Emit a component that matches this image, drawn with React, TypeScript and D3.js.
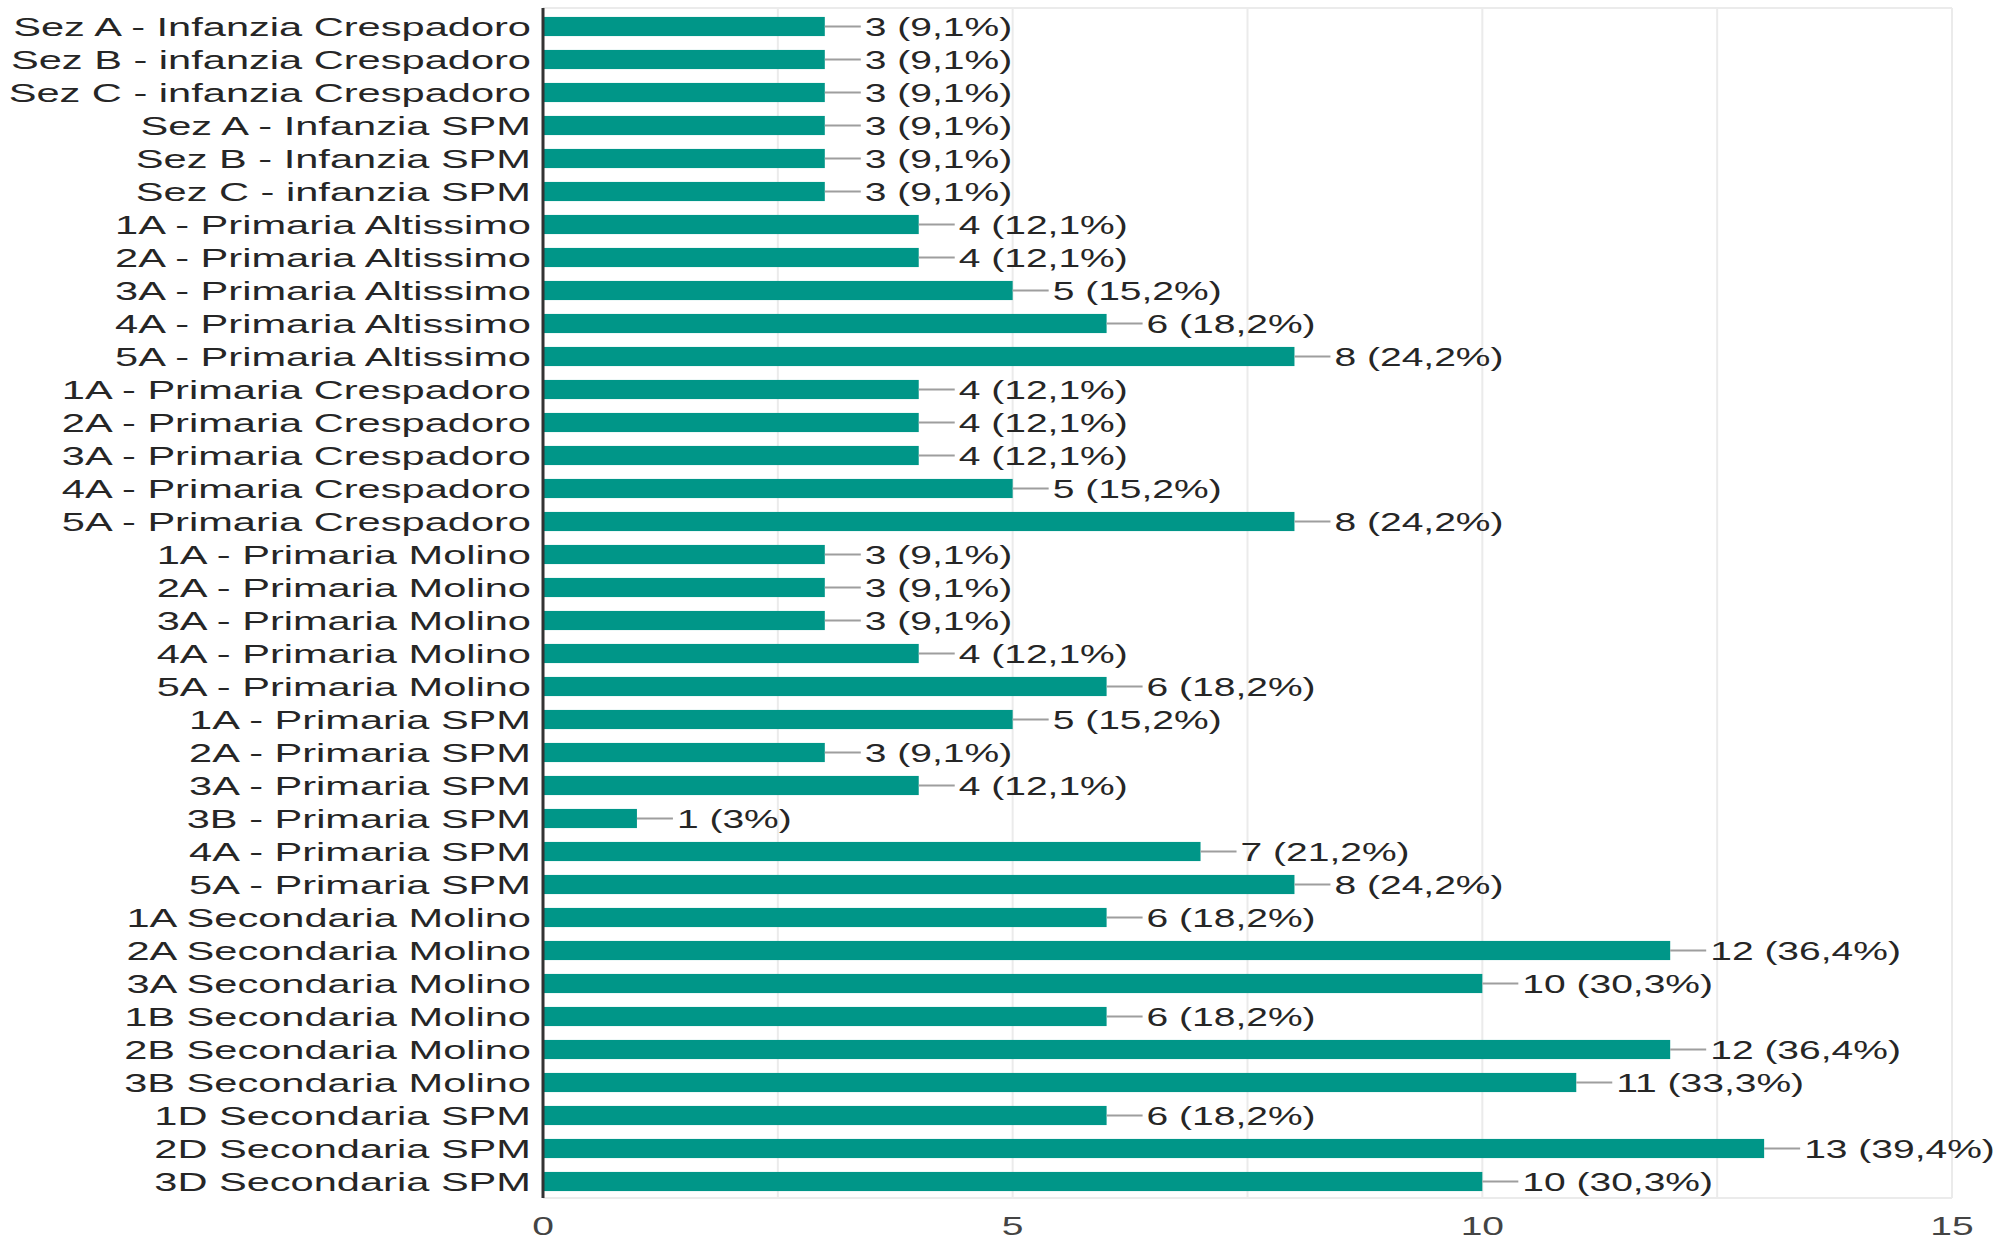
import React from 'react';
import * as d3 from 'd3';

const categories = [
  'Sez A - Infanzia Crespadoro',
  'Sez B - infanzia Crespadoro',
  'Sez C - infanzia Crespadoro',
  'Sez A - Infanzia SPM',
  'Sez B - Infanzia SPM',
  'Sez C - infanzia SPM',
  '1A - Primaria Altissimo',
  '2A - Primaria Altissimo',
  '3A - Primaria Altissimo',
  '4A - Primaria Altissimo',
  '5A - Primaria Altissimo',
  '1A - Primaria Crespadoro',
  '2A - Primaria Crespadoro',
  '3A - Primaria Crespadoro',
  '4A - Primaria Crespadoro',
  '5A - Primaria Crespadoro',
  '1A - Primaria Molino',
  '2A - Primaria Molino',
  '3A - Primaria Molino',
  '4A - Primaria Molino',
  '5A - Primaria Molino',
  '1A - Primaria SPM',
  '2A - Primaria SPM',
  '3A - Primaria SPM',
  '3B - Primaria SPM',
  '4A - Primaria SPM',
  '5A - Primaria SPM',
  '1A Secondaria Molino',
  '2A Secondaria Molino',
  '3A Secondaria Molino',
  '1B Secondaria Molino',
  '2B Secondaria Molino',
  '3B Secondaria Molino',
  '1D Secondaria SPM',
  '2D Secondaria SPM',
  '3D Secondaria SPM',
];

const counts = [3, 3, 3, 3, 3, 3, 4, 4, 5, 6, 8, 4, 4, 4, 5, 8, 3, 3, 3, 4, 6, 5, 3, 4, 1, 7, 8, 6, 12, 10, 6, 12, 11, 6, 13, 10];

const percents = [
  '9,1%', '9,1%', '9,1%', '9,1%', '9,1%', '9,1%',
  '12,1%', '12,1%', '15,2%', '18,2%', '24,2%',
  '12,1%', '12,1%', '12,1%', '15,2%', '24,2%',
  '9,1%', '9,1%', '9,1%', '12,1%', '18,2%',
  '15,2%', '9,1%', '12,1%', '3%', '21,2%', '24,2%',
  '18,2%', '36,4%', '30,3%', '18,2%', '36,4%', '33,3%',
  '18,2%', '39,4%', '30,3%',
];

const tickLabels = [0, 5, 10, 15];
const gridValues = [0, 2.5, 5, 7.5, 10, 12.5, 15];

const W = 2005;
const H = 1242;
const FONT = '"Liberation Sans", Arial, Helvetica, sans-serif';
const STRETCH = 1.5; // reference text is widened horizontally

const App: React.FC = () => {
  const x = d3.scaleLinear().domain([0, 15]).range([543, 1952]);
  const y = d3.scaleBand<string>()
    .domain(categories)
    .range([10, 1198])
    .paddingInner(0.42)
    .paddingOuter(0.21);

  const top = 8;
  const bottom = 1198;

  return (
    <svg width={W} height={H} style={{ position: 'absolute', left: 0, top: 0, background: '#fff' }}>
      {/* grid */}
      {gridValues.map(v => (
        <line key={'g' + v} x1={x(v)} x2={x(v)} y1={top} y2={bottom} stroke="#ebebeb" strokeWidth={2} />
      ))}
      <line x1={x(0)} x2={x(15)} y1={top} y2={top} stroke="#ebebeb" strokeWidth={2} />
      <line x1={x(0)} x2={x(15)} y1={bottom} y2={bottom} stroke="#ebebeb" strokeWidth={2} />

      {/* bars, leaders, labels */}
      {categories.map((c, i) => {
        const y0 = y(c)!;
        const cy = y0 + y.bandwidth() / 2;
        const xe = x(counts[i]);
        return (
          <g key={c}>
            <rect x={x(0)} y={y0} width={xe - x(0)} height={y.bandwidth()} fill="#009688" />
            <line x1={xe} x2={xe + 36} y1={cy} y2={cy} stroke="#9e9e9e" strokeWidth={2} />
            <text
              transform={`translate(${xe + 40},${cy}) scale(${STRETCH},1)`}
              dy="0.36em"
              fontSize={26}
              fontFamily={FONT}
              fill="#262626"
            >
              {`${counts[i]} (${percents[i]})`}
            </text>
            <text
              transform={`translate(531,${cy}) scale(1.6,1)`}
              dy="0.36em"
              textAnchor="end"
              fontSize={26}
              fontFamily={FONT}
              fill="#262626"
            >
              {c}
            </text>
          </g>
        );
      })}

      {/* zero axis */}
      <line x1={x(0)} x2={x(0)} y1={top} y2={bottom} stroke="#333" strokeWidth={3} />

      {/* x tick labels */}
      {tickLabels.map(t => (
        <text
          key={'t' + t}
          transform={`translate(${x(t)},1235) scale(${STRETCH},1)`}
          textAnchor="middle"
          fontSize={26}
          fontFamily={FONT}
          fill="#444"
        >
          {t}
        </text>
      ))}
    </svg>
  );
};

export default App;
